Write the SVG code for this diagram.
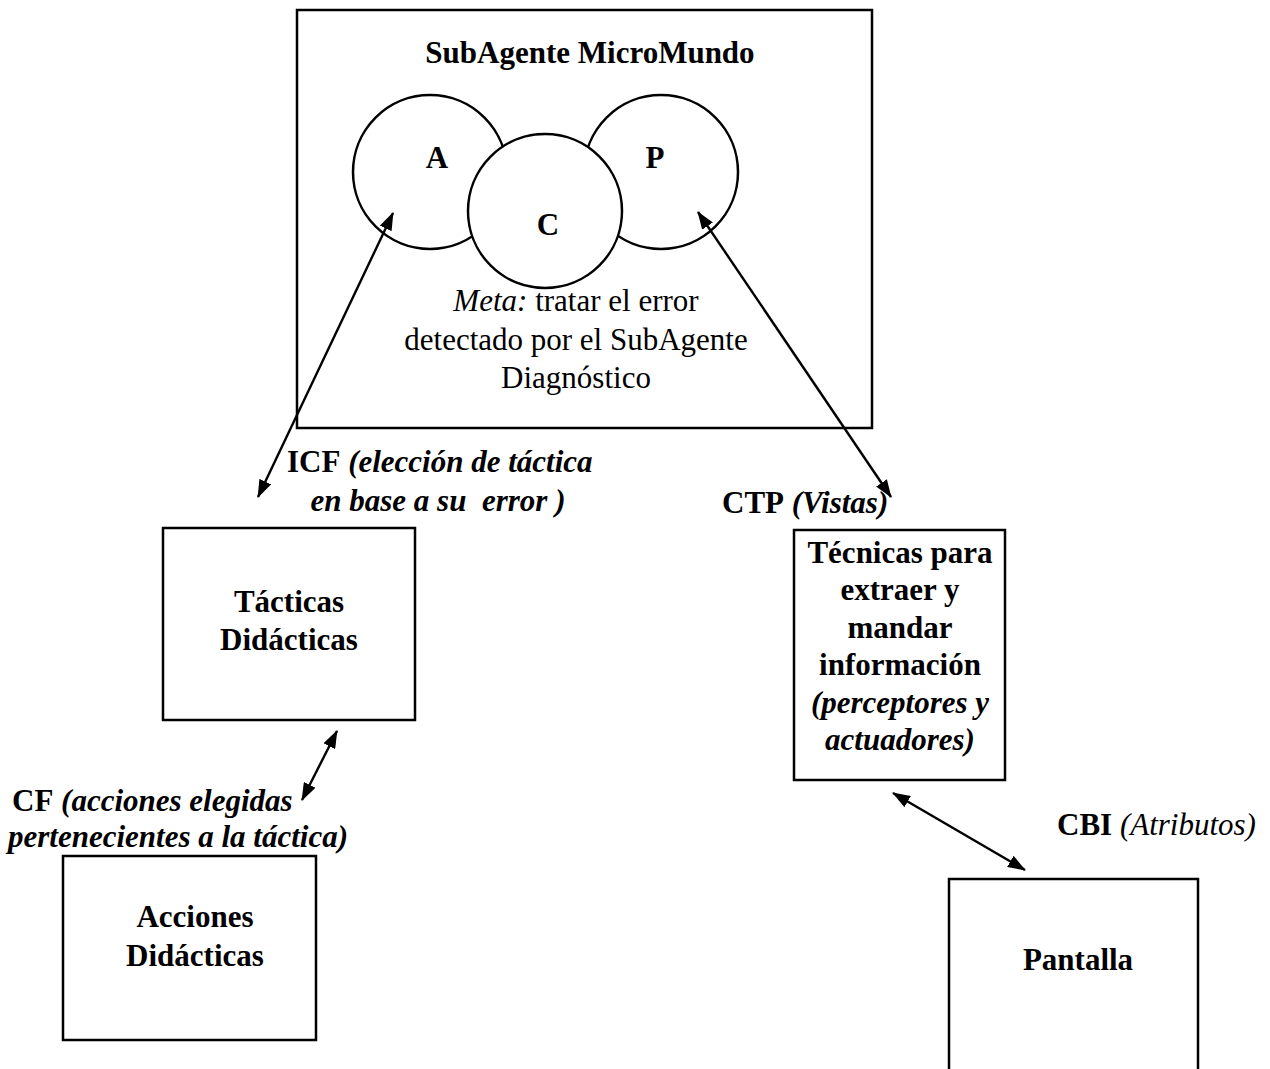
<svg xmlns="http://www.w3.org/2000/svg" width="1270" height="1069" viewBox="0 0 1270 1069">
  <style>
    .box { fill: #fff; stroke: #000; stroke-width: 2.5; }
    .circ { fill: #fff; stroke: #000; stroke-width: 2.5; }
    .t { font-family: "Liberation Serif", "Times New Roman", serif; font-size: 31px; fill: #000; }
    .b { font-weight: bold; }
    .i { font-style: italic; }
    .bi { font-weight: bold; font-style: italic; }
    .mid { text-anchor: middle; }
    .conn { stroke: #000; stroke-width: 2.4; fill: none; marker-start: url(#head); marker-end: url(#head); }
  </style>
  <defs>
    <marker id="head" viewBox="0 0 18 13" refX="17" refY="6.5" markerWidth="18" markerHeight="13" markerUnits="userSpaceOnUse" orient="auto-start-reverse">
      <path d="M0,0 L18,6.5 L0,13 z" fill="#000"/>
    </marker>
  </defs>

  <rect width="1270" height="1069" fill="#fff"/>

  <!-- SubAgente MicroMundo with its three components -->
  <g id="micromundo">
    <rect class="box" x="297" y="10" width="575" height="418"/>
    <text class="t b mid" x="590" y="63">SubAgente MicroMundo</text>
    <circle class="circ" cx="430" cy="172" r="77"/>
    <circle class="circ" cx="661" cy="172" r="77"/>
    <circle class="circ" cx="545" cy="211" r="77"/>
    <text class="t b mid" x="437" y="168" font-size="28">A</text>
    <text class="t b mid" x="548" y="235" font-size="28">C</text>
    <text class="t b mid" x="655" y="168" font-size="28">P</text>
    <text class="t mid" x="576" y="311"><tspan class="i">Meta:</tspan> tratar el error</text>
    <text class="t mid" x="576" y="350" font-size="31.5">detectado por el SubAgente</text>
    <text class="t mid" x="576" y="388">Diagnóstico</text>
  </g>

  <g id="tacticas">
    <rect class="box" x="163" y="528" width="252" height="192"/>
    <text class="t b mid" x="289" y="612">Tácticas</text>
    <text class="t b mid" x="289" y="650">Didácticas</text>
  </g>

  <g id="acciones">
    <rect class="box" x="63" y="856" width="253" height="184"/>
    <text class="t b mid" x="195" y="927">Acciones</text>
    <text class="t b mid" x="195" y="966">Didácticas</text>
  </g>

  <g id="tecnicas">
    <rect class="box" x="794" y="530" width="211" height="250"/>
    <text class="t b mid" x="900" y="563">Técnicas para</text>
    <text class="t b mid" x="900" y="600">extraer y</text>
    <text class="t b mid" x="900" y="638">mandar</text>
    <text class="t b mid" x="900" y="675">información</text>
    <text class="t bi mid" x="900" y="713">(perceptores y</text>
    <text class="t bi mid" x="900" y="750">actuadores)</text>
  </g>

  <g id="pantalla">
    <rect class="box" x="949" y="879" width="249" height="210"/>
    <text class="t b mid" x="1078" y="970">Pantalla</text>
  </g>

  <!-- connector labels -->
  <g id="labels">
    <text class="t" x="287" y="472"><tspan class="b">ICF</tspan> <tspan class="bi">(elección de táctica</tspan></text>
    <text class="t bi mid" x="438" y="511" xml:space="preserve">en base a su  error )</text>
    <text class="t" x="722" y="513"><tspan class="b">CTP</tspan> <tspan class="bi">(Vistas)</tspan></text>
    <text class="t" x="12" y="811"><tspan class="b">CF</tspan> <tspan class="bi">(acciones elegidas</tspan></text>
    <text class="t bi" x="8" y="847">pertenecientes a la táctica)</text>
    <text class="t" x="1057" y="835"><tspan class="b">CBI</tspan> <tspan class="i">(Atributos)</tspan></text>
  </g>

  <!-- double-headed connectors -->
  <g id="connectors">
    <line class="conn" x1="258" y1="497" x2="393" y2="213"/>
    <line class="conn" x1="891" y1="497" x2="698" y2="212"/>
    <line class="conn" x1="302" y1="800" x2="337" y2="731"/>
    <line class="conn" x1="893" y1="793" x2="1025" y2="870"/>
  </g>
</svg>
